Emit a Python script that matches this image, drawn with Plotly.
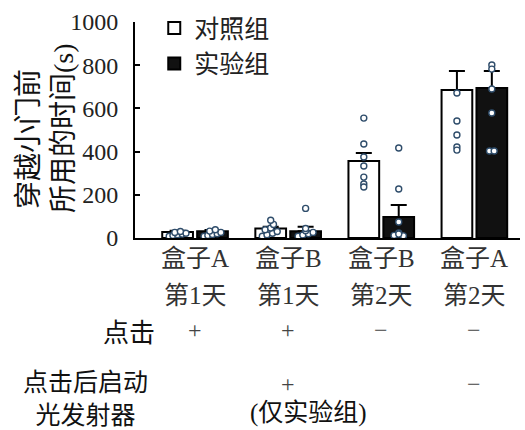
import plotly.graph_objects as go

# ---------------- data ----------------
groups = ["盒子A", "盒子B", "盒子B", "盒子A"]
days = ["第1天", "第1天", "第2天", "第2天"]
click = ["+", "+", "−", "−"]
light = ["", "+", "", "−"]

series_names = ["对照组", "实验组"]
ctrl_mean = [28, 44, 356, 685]
exp_mean = [31, 31, 97, 694]
ctrl_err = [5, 8, 37, 88]
exp_err = [6, 21, 56, 79]

ctrl_points = [
    [8, 12, 15, 18, 22, 26, 30],
    [8, 15, 22, 30, 38, 46, 63, 82],
    [555, 435, 375, 333, 282, 250, 236],
    [671, 542, 477, 421, 407],
]
exp_points = [
    [8, 12, 16, 20, 26, 32, 38],
    [8, 14, 20, 26, 34, 44, 137],
    [417, 227, 74, 23, 12, 10, 18],
    [801, 782, 690, 579, 403, 403],
]
# horizontal jitter of each dot (style only, in x-axis units)
ctrl_jit = [
    [-0.09, -0.05, 0.0, 0.05, 0.09, -0.03, 0.03],
    [-0.09, -0.04, 0.02, 0.07, -0.06, 0.0, 0.03, 0.0],
    [0, 0, 0, 0, 0, 0, 0],
    [0, 0, 0, 0, 0],
]
exp_jit = [
    [-0.09, -0.05, 0.0, 0.05, 0.09, -0.03, 0.03],
    [-0.08, -0.03, 0.03, 0.08, 0.0, 0.0, 0.0],
    [0, 0, 0, 0, -0.05, 0.05, 0.0],
    [0, 0, 0, 0, -0.025, 0.025],
]

ylabel_lines = ["穿越小门前", "所用的时间(s)"]
ytick_vals = [0, 200, 400, 600, 800, 1000]

# ---------------- figure ----------------
SERIF = "Liberation Serif, Times New Roman, serif"
FONT = "Liberation Serif, Noto Sans CJK SC, serif"
xs = list(range(len(groups)))
slot = 0.375  # half of group width

fig = go.Figure()
fig.add_trace(go.Bar(
    x=xs, y=ctrl_mean, name=series_names[0],
    marker=dict(color="white", line=dict(color="black", width=2)),
    error_y=dict(type="data", array=ctrl_err, arrayminus=[0] * 4, symmetric=False,
                 color="black", thickness=2, width=8),
))
fig.add_trace(go.Bar(
    x=xs, y=exp_mean, name=series_names[1],
    marker=dict(color="#111111", line=dict(color="black", width=2)),
    error_y=dict(type="data", array=exp_err, arrayminus=[0] * 4, symmetric=False,
                 color="black", thickness=2, width=8),
))

for pts, jit, off in [(ctrl_points, ctrl_jit, -slot / 2), (exp_points, exp_jit, slot / 2)]:
    px, py = [], []
    for i, (vals, js) in enumerate(zip(pts, jit)):
        for v, j in zip(vals, js):
            px.append(i + off + j)
            py.append(v)
    fig.add_trace(go.Scatter(
        x=px, y=py, mode="markers", showlegend=False, hoverinfo="skip",
        marker=dict(symbol="circle", size=6, color="white",
                    line=dict(color="#2f4d6b", width=1.4)),
    ))

fig.update_layout(
    width=525, height=430,
    margin=dict(l=135, r=5, t=22, b=192),
    paper_bgcolor="white", plot_bgcolor="white",
    barmode="group", bargap=0.25, bargroupgap=0.12,
    font=dict(family=FONT, color="#222"),
    showlegend=True,
    legend=dict(x=0.05, y=1.078, xanchor="left", yanchor="top",
                font=dict(size=25, family="Noto Sans CJK SC", color="#222"),
                bgcolor="rgba(0,0,0,0)", tracegroupgap=0, itemsizing="constant"),
    xaxis=dict(range=[-0.645, 3.49], showline=True, linecolor="black", linewidth=2,
               showticklabels=False, ticks="", showgrid=False, zeroline=False, fixedrange=True),
    yaxis=dict(range=[0, 1000], tickvals=ytick_vals, showline=True, linecolor="black",
               linewidth=2, ticks="inside", ticklen=5, tickwidth=2, tickcolor="black",
               showgrid=False, zeroline=False,
               tickfont=dict(family=SERIF, size=24, color="#222"),
               ticklabelstandoff=10),
)

def px2paper_y(py):
    return (238 - py) / 216.0

def px2paper_x(px):
    return (px - 135) / 385.0

ann = []
cat_font = dict(family=FONT, size=25, color="#333")
for i in xs:
    ann.append(dict(x=i, y=px2paper_y(258), xref="x", yref="paper", text=groups[i],
                    showarrow=False, font=cat_font, xanchor="center", yanchor="middle"))
    ann.append(dict(x=i, y=px2paper_y(295), xref="x", yref="paper", text=days[i],
                    showarrow=False, font=cat_font, xanchor="center", yanchor="middle"))
    ann.append(dict(x=i, y=px2paper_y(330), xref="x", yref="paper", text=click[i],
                    showarrow=False, font=dict(family=FONT, size=24, color="#444"),
                    xanchor="center", yanchor="middle"))
    if light[i]:
        ann.append(dict(x=i, y=px2paper_y(384), xref="x", yref="paper", text=light[i],
                        showarrow=False, font=dict(family=FONT, size=24, color="#444"),
                        xanchor="center", yanchor="middle"))

row_font = dict(family="Noto Sans CJK SC", size=26, color="#111")
ann.append(dict(x=px2paper_x(157), y=px2paper_y(330), xref="paper", yref="paper",
                text="点击", showarrow=False, font=row_font, xanchor="right", yanchor="middle"))
ann.append(dict(x=px2paper_x(85), y=px2paper_y(396), xref="paper", yref="paper",
                text="点击后启动<br>光发射器", showarrow=False,
                font=dict(family="Noto Sans CJK SC", size=25, color="#111"), borderpad=0,
                xanchor="center", yanchor="middle"))
ann.append(dict(x=px2paper_x(308), y=px2paper_y(413), xref="paper", yref="paper",
                text="(仅实验组)", showarrow=False, font=dict(family=FONT, size=25, color="#111"),
                borderpad=0, xanchor="center", yanchor="middle"))
for line, lx, ly in zip(ylabel_lines, [28, 64], [139, 128]):
    ann.append(dict(x=px2paper_x(lx), y=px2paper_y(ly), xref="paper", yref="paper",
                    text=line, textangle=-90, showarrow=False, borderpad=0,
                    font=dict(family=FONT, size=28, color="#111"),
                    xanchor="center", yanchor="middle"))
fig.update_layout(annotations=ann)

fig.write_html("out.html")
